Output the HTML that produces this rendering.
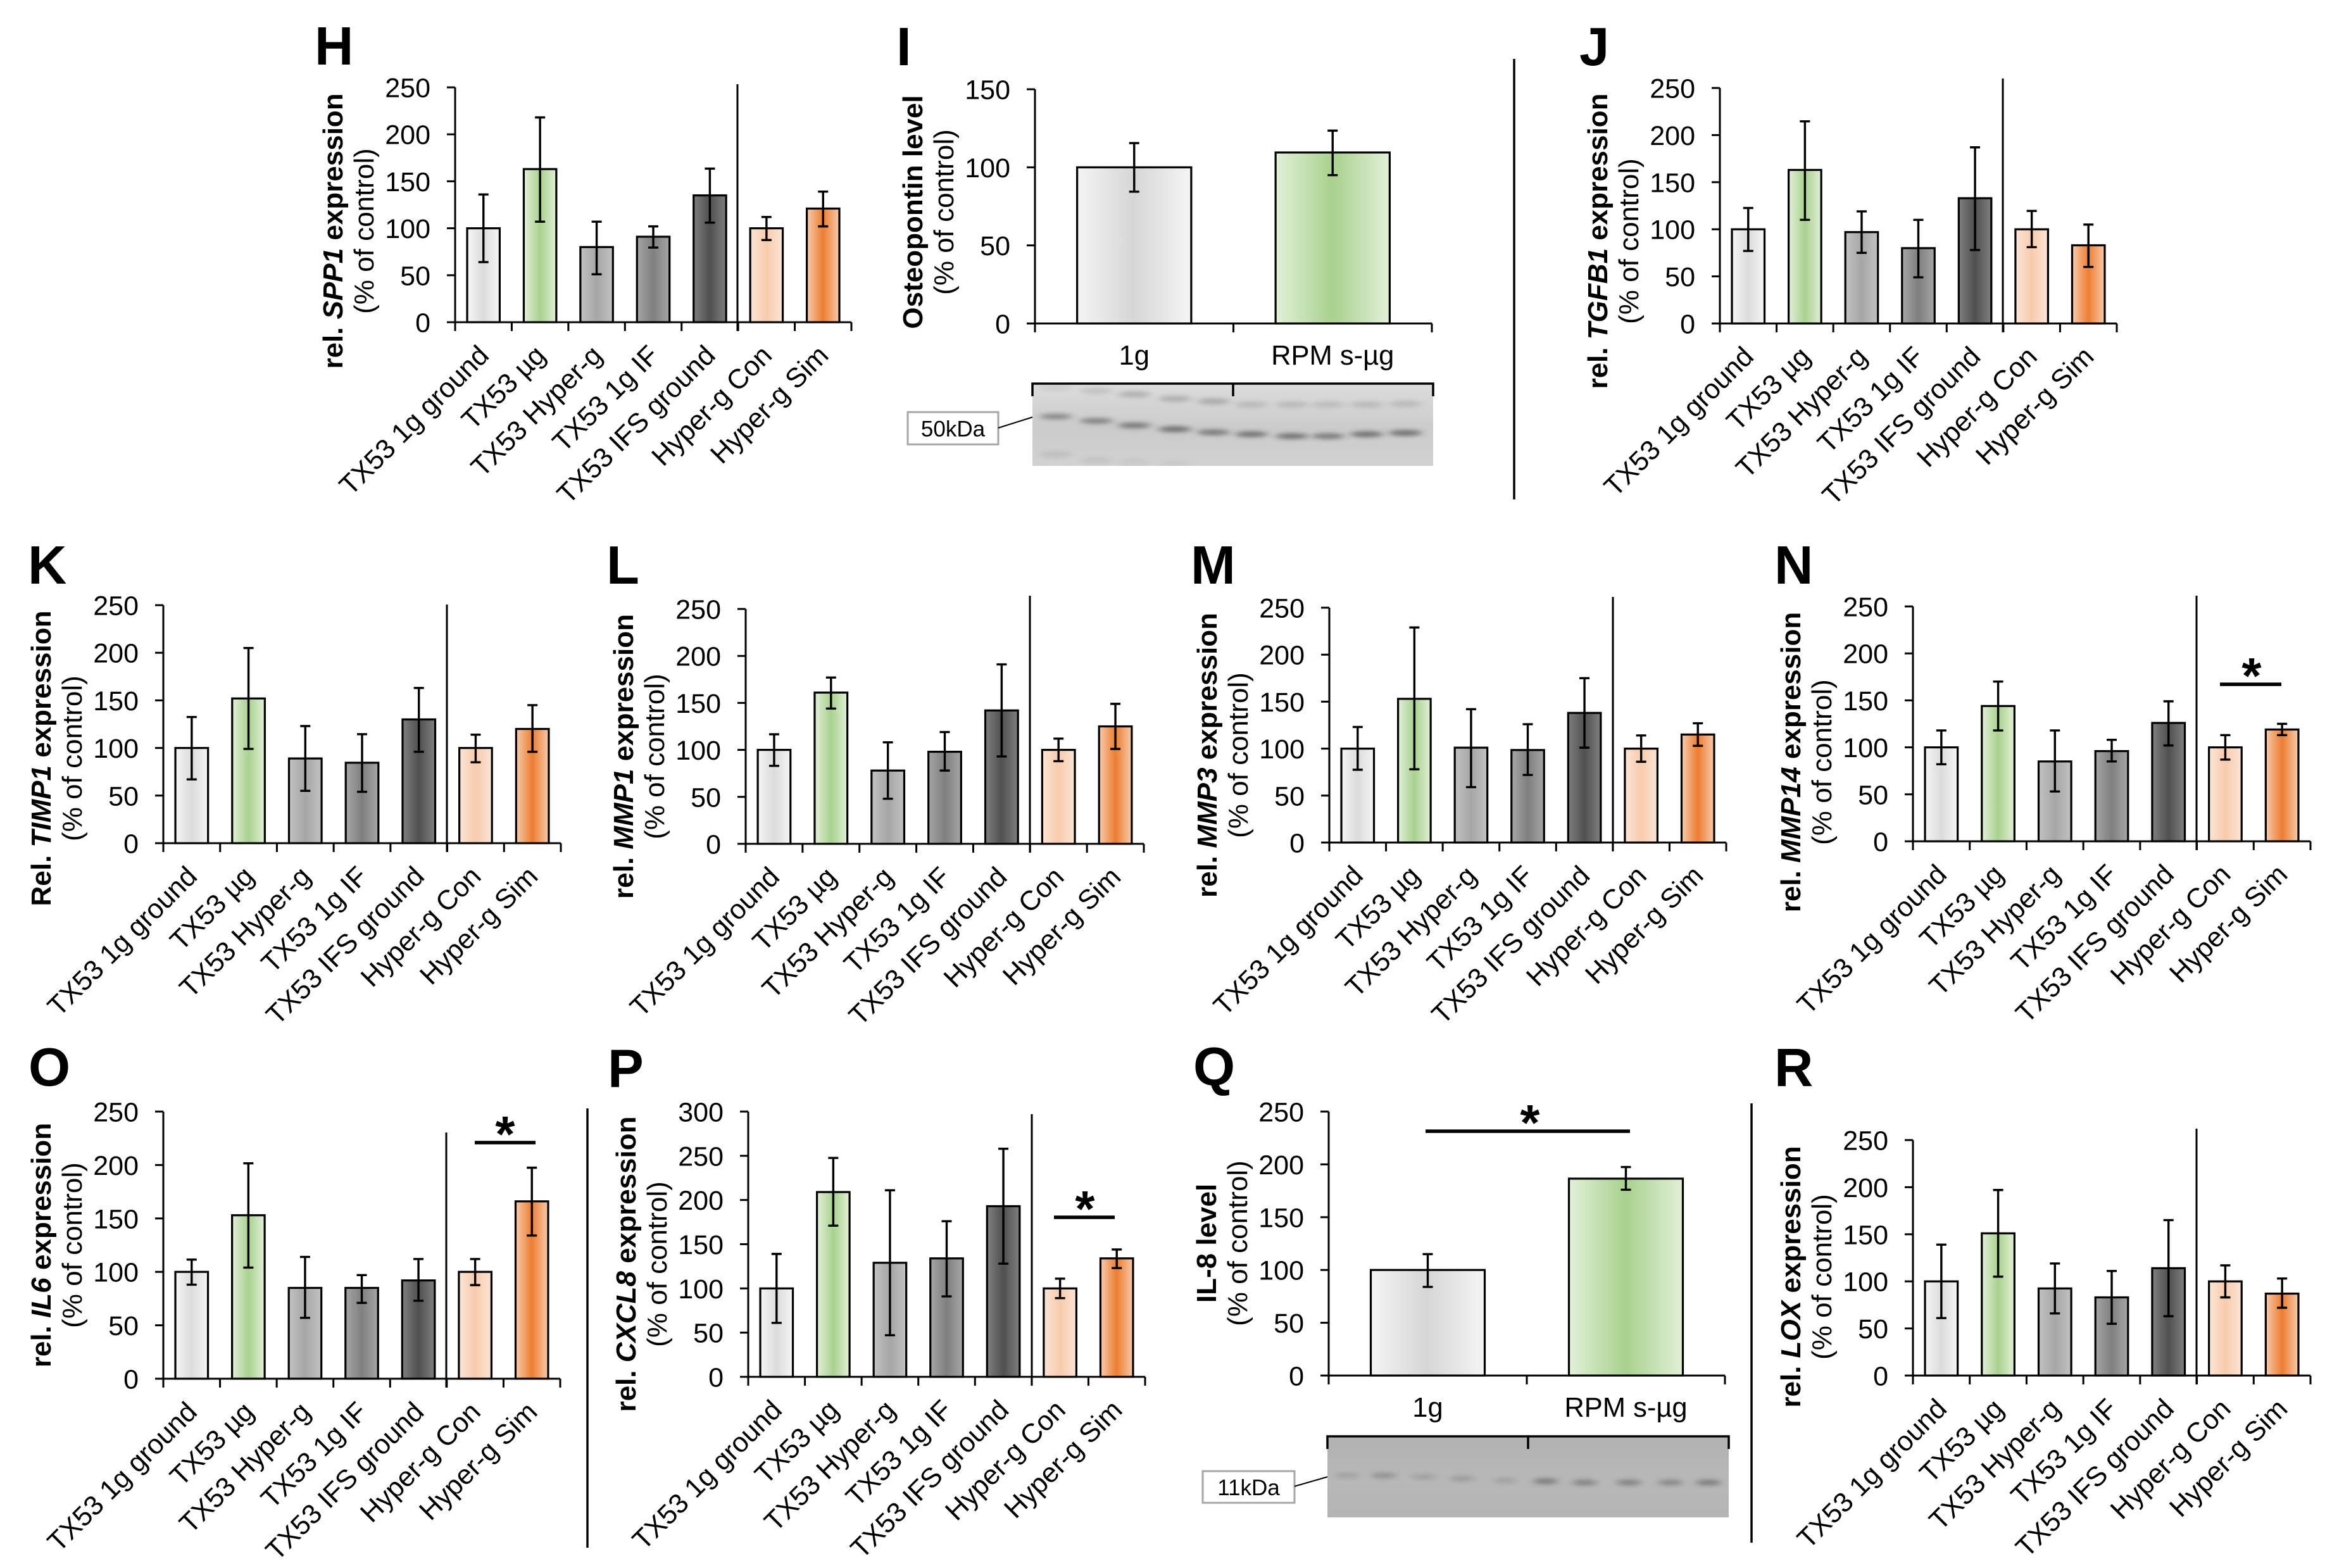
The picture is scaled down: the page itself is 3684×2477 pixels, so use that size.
<!DOCTYPE html>
<html lang="en">
<head>
<meta charset="utf-8">
<title>Gene expression bar chart panels H to R</title>
<style>
html,body{margin:0;padding:0;background:#fff;}
svg{display:block;}
text{font-family:"Liberation Sans",Arial,sans-serif;fill:#000;}
</style>
</head>
<body>
<svg id="figure" xmlns="http://www.w3.org/2000/svg" width="3684" height="2477" viewBox="0 0 3684 2477">
<defs id="defs">
<filter id="soft" x="-50%" y="-300%" width="200%" height="700%"><feGaussianBlur stdDeviation="6 3.5"/></filter>
<linearGradient id="blotBgI" x1="0" y1="0" x2="0" y2="1"><stop offset="0" stop-color="#dcdcdc"/><stop offset="0.55" stop-color="#cbcbcb"/><stop offset="1" stop-color="#d2d2d2"/></linearGradient>
<linearGradient id="blotBgQ" x1="0" y1="0" x2="0" y2="1"><stop offset="0" stop-color="#b2b2b2"/><stop offset="0.55" stop-color="#b8b8b8"/><stop offset="1" stop-color="#b4b4b4"/></linearGradient>
</defs>
<rect x="0" y="0" width="3684" height="2477" fill="#ffffff"/>
</svg>
<script>
// ---- shared categories and tick labels ----
const categories = ['TX53 1g ground','TX53 µg','TX53 Hyper-g','TX53 1g IF','TX53 IFS ground','Hyper-g Con','Hyper-g Sim'];
const blotCategories = ['1g','RPM s-µg'];
const ticks150 = [0,50,100,150];
const ticks250 = [0,50,100,150,200,250];
const ticks300 = [0,50,100,150,200,250,300];

// ---- series values ----
const spp1Mean  = [100,163,80,91,135,100,121];
const spp1Upper = [136,218,107,102,163.5,112,139];
const spp1Lower = [64,107,51,79.5,106,87.5,102];

const opnMean  = [100,109.5];
const opnUpper = [115.5,123.5];
const opnLower = [84.4,95];

const tgfb1Mean  = [100,163,97,80,133,100,83];
const tgfb1Upper = [122.6,214.6,119,110,187,119.5,105];
const tgfb1Lower = [77,110,75,49,78,81,60];

const timp1Mean  = [100,152,89,84.5,130,100,120];
const timp1Upper = [132.5,205,123,114.5,163,114,145];
const timp1Lower = [67,99,55,54,96,85,96];

const mmp1Mean  = [100,161,78,98,142,100,125];
const mmp1Upper = [116.6,177,108,119,191,112,149];
const mmp1Lower = [83,144,48,78,93,88,101];

const mmp3Mean  = [100,153,101,98.5,138,100,115];
const mmp3Upper = [123,229,142,126,175,114,127];
const mmp3Lower = [77.5,78,59,72,101,86,103];

const mmp14Mean  = [100,144,85,96,126,100,119];
const mmp14Upper = [118,170,118,108,149,113,125];
const mmp14Lower = [82,118,53,85,102,87,113];

const il6Mean  = [100,153,85,85,92,100,166];
const il6Upper = [111.5,201.6,114,97,112,112,197.5];
const il6Lower = [88,104,57,71,73,87.6,134];

const cxcl8Mean  = [100,209,129,134,193,100,134];
const cxcl8Upper = [139,247.6,211,176,258,111,144];
const cxcl8Lower = [61,171,47,91,128,89,123];

const il8Mean  = [100,186.5];
const il8Upper = [115,197.5];
const il8Lower = [84,176];

const loxMean  = [100,151,92.5,83,114,100,87];
const loxUpper = [139,197,119,111,165,117,103];
const loxLower = [61,105,66,55,63,83,72];

// ---- bar colours ----
const sevenFills = [['#f5f5f5','#dcdcdc'],['#e2f0d9','#a9d18e'],['#c2c2c2','#a6a6a6'],['#a6a6a6','#7f7f7f'],['#7f7f7f','#505050'],['#fbe5d6','#f8cbad'],['#f8cbad','#ed7d31']];
const twoFills = [['#f5f5f5','#d6d6d6'],['#e2f0d9','#a9d18e']];

const svg = document.getElementById('figure');
const defs = document.getElementById('defs');
const NS = 'http://www.w3.org/2000/svg';

function el(tag, geom, parent) {
  const n = document.createElementNS(NS, tag);
  for (const k in geom) n.setAttribute(k, geom[k]);
  (parent || svg).appendChild(n);
  return n;
}
function line(parent, x1, y1, x2, y2, w) {
  return el('line', {x1, y1, x2, y2, stroke: '#000', 'stroke-width': w || 3}, parent);
}

// one gradient per colour pair
function gradient(id, edge, mid) {
  const g = el('linearGradient', {id, x1: 0, y1: 0, x2: 1, y2: 0}, defs);
  el('stop', {offset: '0', 'stop-color': edge}, g);
  el('stop', {offset: '0.5', 'stop-color': mid}, g);
  el('stop', {offset: '1', 'stop-color': edge}, g);
}
sevenFills.forEach((c, i) => gradient('seven' + i, c[0], c[1]));
twoFills.forEach((c, i) => gradient('two' + i, c[0], c[1]));

function drawPanel(p) {
  const g = el('g', {});
  
  

  const maxV = p.ticks[p.ticks.length - 1];
  const yScale = v => p.y0 - v * (p.y0 - p.top) / maxV;
  const n = p.cats.length;
  const band = (p.x1 - p.x0) / n;
  const xScale = i => p.x0 + (i + 0.5) * band;
  const barW = band * 0.575;

  // panel letter
  const letter = el('text', {x: p.lx, y: p.ly, 'font-size': 85, 'font-weight': 'bold'}, g);
  letter.textContent = p.id;
  
  

  // bars
  p.mean.forEach((v, i) => {
    const bar = el('rect', {x: xScale(i) - barW / 2, y: yScale(v), width: barW, height: p.y0 - yScale(v),
      fill: 'url(#' + p.fillPrefix + i + ')', stroke: '#000', 'stroke-width': 3.2}, g);
    
    
  });

  // y axis
  const yAxis = line(g, p.x0, p.top, p.x0, p.y0 + 14);
  
  
  p.ticks.forEach(t => {
    const tk = line(g, p.x0 - 13, yScale(t), p.x0, yScale(t));
    
    
    const lb = el('text', {x: p.x0 - 39, y: yScale(t) + 15.5, 'text-anchor': 'end', 'font-size': 43}, g);
    lb.textContent = String(t);
    
    
  });

  // x axis
  const xAxis = line(g, p.x0 - 13, p.y0, p.x1, p.y0);
  
  
  for (let i = 1; i <= n; i++) {
    const tk = line(g, p.x0 + i * band, p.y0, p.x0 + i * band, p.y0 + 14);
    
    
  }

  // category labels
  p.cats.forEach((c, i) => {
    let lb;
    if (n > 2) {
      const px = xScale(i) + 11, py = p.y0 + 55;
      lb = el('text', {x: px, y: py, 'text-anchor': 'end', 'font-size': 43.5, transform: 'rotate(-45 ' + px + ' ' + py + ')'}, g);
    } else {
      lb = el('text', {x: xScale(i), y: p.y0 + 65, 'text-anchor': 'middle', 'font-size': 43.5}, g);
    }
    lb.textContent = c;
    
    
  });

  // error bars
  p.mean.forEach((v, i) => {
    const e = el('path', {d: 'M' + (xScale(i) - 8) + ' ' + yScale(p.upper[i]) + 'H' + (xScale(i) + 8) +
      'M' + xScale(i) + ' ' + yScale(p.upper[i]) + 'V' + yScale(p.lower[i]) +
      'M' + (xScale(i) - 8) + ' ' + yScale(p.lower[i]) + 'H' + (xScale(i) + 8),
      fill: 'none', stroke: '#000', 'stroke-width': 3.4}, g);
    
    
  });

  // vertical separator between TX53 and Hyper-g groups
  if (p.sepX) {
    const s = line(g, p.sepX, p.sepTop, p.sepX, p.y0 + 14);
    
    
  }

  // y titles
  const t1 = el('text', {'font-size': 44, 'font-weight': 'bold', 'text-anchor': 'middle',
    transform: 'translate(' + (p.x0 - 178) + ' ' + p.titleY + ') rotate(-90)'}, g);
  
  
  t1.appendChild(document.createTextNode(p.pre));
  if (p.gene) {
    const it = el('tspan', {'font-style': 'italic'}, t1);
    it.textContent = p.gene;
  }
  t1.appendChild(document.createTextNode(p.post));

  const t2 = el('text', {'font-size': 44, 'text-anchor': 'middle',
    transform: 'translate(' + (p.x0 - 129) + ' ' + p.titleY + ') rotate(-90)'}, g);
  t2.textContent = '(% of control)';
  
  

  // significance marker
  if (p.sig) {
    const sl = line(g, p.sig[0], p.sig[2], p.sig[1], p.sig[2], 5.5);
    
    
    const st = el('text', {x: p.sig[3], y: p.sig[2] + 14, 'text-anchor': 'middle', 'font-size': 80, 'font-weight': 'bold'}, g);
    st.textContent = '*';
    
    
  }
}

function drawBlot(b) {
  const g = el('g', {});
  
  

  const clipId = 'clip' + b.id;
  const clip = el('clipPath', {id: clipId}, defs);
  el('rect', {x: b.x, y: b.y, width: b.w, height: b.h}, clip);

  const bg = el('rect', {x: b.x, y: b.y, width: b.w, height: b.h, fill: b.bg}, g);
  
  

  const bands = el('g', {'clip-path': 'url(#' + clipId + ')'}, g);
  
  
  b.rows.forEach(row => {
    row.ys.forEach((y, i) => {
      const e = el('ellipse', {cx: b.lanes[i], cy: y, rx: b.rx, ry: row.ry, fill: '#404040',
        opacity: row.op[i], filter: 'url(#soft)'}, bands);
      
      
    });
  });

  const br = el('path', {d: 'M' + b.x + ' ' + (b.y + 20) + 'V' + b.y + 'H' + (b.x + b.w) + 'V' + (b.y + 20) +
    'M' + b.mid + ' ' + b.y + 'V' + (b.y + 20), fill: 'none', stroke: '#000', 'stroke-width': 3.5}, g);
  
  

  const box = el('rect', {x: b.bx, y: b.by, width: b.bw, height: b.bh, fill: '#fff', stroke: '#a6a6a6', 'stroke-width': 3}, g);
  
  

  const tx = el('text', {x: b.bx + b.bw / 2, y: b.by + b.bh / 2 + 13, 'text-anchor': 'middle', 'font-size': 35}, g);
  tx.textContent = b.label;
  
  

  const ln = line(g, b.bx + b.bw, b.ly1, b.x, b.ly2, 2);
  
  
}

function divider(name, x, y1, y2) {
  const d = line(svg, x, y1, x, y2, 3.5);
  
  
}

// ---- render panels ----
const seven = {cats: categories, fillPrefix: 'seven'};
const two = {cats: blotCategories, fillPrefix: 'two'};

drawPanel({...seven, id:'H', ticks:ticks250, mean:spp1Mean, upper:spp1Upper, lower:spp1Lower, pre:'rel. ', gene:'SPP1', post:' expression',
  x0:719, x1:1345, top:138, y0:509, sepX:1165, sepTop:133, titleY:365, lx:497, ly:102});
drawPanel({...two, id:'I', ticks:ticks150, mean:opnMean, upper:opnUpper, lower:opnLower, pre:'Osteopontin level', gene:'', post:'',
  x0:1635, x1:2262, top:141, y0:511, titleY:335, lx:1416, ly:103});
drawPanel({...seven, id:'J', ticks:ticks250, mean:tgfb1Mean, upper:tgfb1Upper, lower:tgfb1Lower, pre:'rel. ', gene:'TGFB1', post:' expression',
  x0:2717, x1:3344, top:139, y0:511, sepX:3164, sepTop:124, titleY:381, lx:2495, ly:103});
drawPanel({...seven, id:'K', ticks:ticks250, mean:timp1Mean, upper:timp1Upper, lower:timp1Lower, pre:'Rel. ', gene:'TIMP1', post:' expression',
  x0:258, x1:886, top:956, y0:1332, sepX:706, sepTop:955, titleY:1198, lx:44, ly:922});
drawPanel({...seven, id:'L', ticks:ticks250, mean:mmp1Mean, upper:mmp1Upper, lower:mmp1Lower, pre:'rel. ', gene:'MMP1', post:' expression',
  x0:1178, x1:1807, top:962, y0:1333, sepX:1627, sepTop:941, titleY:1195, lx:958, ly:922});
drawPanel({...seven, id:'M', ticks:ticks250, mean:mmp3Mean, upper:mmp3Upper, lower:mmp3Lower, pre:'rel. ', gene:'MMP3', post:' expression',
  x0:2100, x1:2727, top:960, y0:1331, sepX:2548, sepTop:943, titleY:1193, lx:1881, ly:922});
drawPanel({...seven, id:'N', ticks:ticks250, mean:mmp14Mean, upper:mmp14Upper, lower:mmp14Lower, pre:'rel. ', gene:'MMP14', post:' expression',
  x0:3022, x1:3650, top:958, y0:1329, sepX:3470, sepTop:941, titleY:1204, lx:2803, ly:922,
  sig:[3507,3604,1081,3557]});
drawPanel({...seven, id:'O', ticks:ticks250, mean:il6Mean, upper:il6Upper, lower:il6Lower, pre:'rel. ', gene:'IL6', post:' expression',
  x0:258, x1:885, top:1756, y0:2178, sepX:705, sepTop:1789, titleY:1967, lx:45, ly:1715,
  sig:[750,846,1805,798]});
drawPanel({...seven, id:'P', ticks:ticks300, mean:cxcl8Mean, upper:cxcl8Upper, lower:cxcl8Lower, pre:'rel. ', gene:'CXCL8', post:' expression',
  x0:1182, x1:1809, top:1756, y0:2175, sepX:1630, sepTop:1760, titleY:1997, lx:960, ly:1717,
  sig:[1665,1761,1923,1714]});
drawPanel({...two, id:'Q', ticks:ticks250, mean:il8Mean, upper:il8Upper, lower:il8Lower, pre:'IL-8 level', gene:'', post:'',
  x0:2099, x1:2725, top:1756, y0:2173, titleY:1964, lx:1885, ly:1714,
  sig:[2252,2575,1787,2417]});
drawPanel({...seven, id:'R', ticks:ticks250, mean:loxMean, upper:loxUpper, lower:loxLower, pre:'rel. ', gene:'LOX', post:' expression',
  x0:3022, x1:3650, top:1801, y0:2173, sepX:3470, sepTop:1783, titleY:2017, lx:2803, ly:1716});

drawBlot({id:'I', x:1631, y:606, w:633, h:130, bg:'url(#blotBgI)', mid:1948, label:'50kDa', rx:26,
  bx:1434, by:651, bw:143, bh:51, ly1:676, ly2:659,
  lanes:[1668,1732,1792,1856,1917,1977,2041,2098,2159,2220],
  rows:[
    {ry:5, ys:[612,617,623,630,634,639,639,639,639,638], op:[.1,.15,.25,.25,.28,.18,.18,.16,.18,.18]},
    {ry:4.5, ys:[658,665,672,678,683,686,689,689,686,684], op:[.5,.55,.62,.68,.6,.66,.66,.6,.68,.68]},
    {ry:6, ys:[718,727,730,732], op:[.1,.08,.06,.05]}
  ]});
drawBlot({id:'Q', x:2097, y:2269, w:634, h:128, bg:'url(#blotBgQ)', mid:2414, label:'11kDa', rx:20,
  bx:1900, by:2324, bw:145, bh:50, ly1:2348, ly2:2333,
  lanes:[2128,2186,2249,2310,2377,2442,2503,2573,2639,2699],
  rows:[
    {ry:4.5, ys:[2331,2331,2333,2336,2339,2340,2342,2342,2342,2342], op:[.18,.32,.2,.24,.18,.5,.45,.45,.42,.5]}
  ]});

divider('panel-divider-right-top', 2392, 93, 789);
divider('panel-divider-bottom-left', 928, 1751, 2445);
divider('panel-divider-bottom-right', 2767, 1743, 2437);
</script>
</body>
</html>
